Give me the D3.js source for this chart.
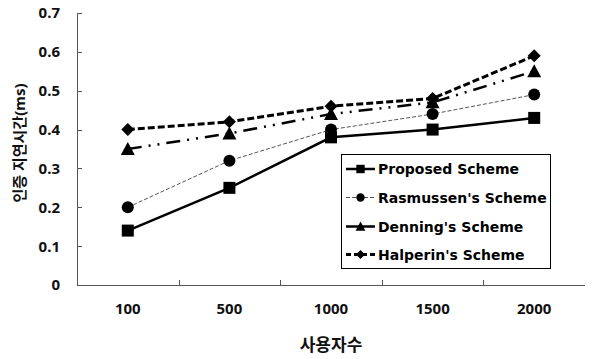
<!DOCTYPE html>
<html><head><meta charset="utf-8">
<script src="https://cdn.jsdelivr.net/npm/d3@7"></script>
<style>body{margin:0;background:#fff}svg{display:block}</style>
</head><body>
<script>
const categories = ["100","500","1000","1500","2000"];
const proposed   = [0.14, 0.25, 0.38, 0.40, 0.43];
const rasmussen  = [0.20, 0.32, 0.40, 0.44, 0.49];
const denning    = [0.35, 0.39, 0.44, 0.47, 0.55];
const halperin   = [0.40, 0.42, 0.46, 0.48, 0.59];
const yTicks = [0,0.1,0.2,0.3,0.4,0.5,0.6,0.7];
const seriesNames = ["Proposed Scheme","Rasmussen's Scheme","Denning's Scheme","Halperin's Scheme"];
const xTitle = "사용자수";
const yTitle = "인증 지연시간(ms)";

(function(){
const W=596,H=359;
const svg=d3.select("body").append("svg").attr("width",W).attr("height",H);
const mL=77,mR=585,mT=13,mB=285;
const x=d3.scaleBand().domain(categories).range([mL,mR]);
const y=d3.scaleLinear().domain([0,0.7]).range([mB,mT]);
const font="'Noto Sans','Noto Sans CJK KR',sans-serif";
const lfont="'DejaVu Sans',sans-serif";

svg.append("line").attr("x1",mL+0.5).attr("x2",mL+0.5).attr("y1",y(0.7)).attr("y2",mB).attr("stroke","#555").attr("stroke-width",1);
svg.append("line").attr("x1",mL).attr("x2",mR).attr("y1",mB+0.5).attr("y2",mB+0.5).attr("stroke","#555").attr("stroke-width",1);
yTicks.forEach(t=>{
  svg.append("line").attr("x1",mL).attr("x2",mL+5).attr("y1",Math.round(y(t))+0.5).attr("y2",Math.round(y(t))+0.5).attr("stroke","#555");
  svg.append("text").attr("x",mL-17).attr("y",y(t)).attr("dy","0.36em").attr("text-anchor","end")
    .attr("font-family",font).attr("font-weight","bold").attr("font-size",15).attr("fill","#111").text(t===0?"0":d3.format(".1f")(t));
});
categories.forEach((c,i)=>{
  const bx=x(c)+x.bandwidth();
  if(i<categories.length-1) svg.append("line").attr("x1",Math.round(bx)+0.5).attr("x2",Math.round(bx)+0.5).attr("y1",mB).attr("y2",mB-5).attr("stroke","#555");
  svg.append("text").attr("x",x(c)+x.bandwidth()/2).attr("y",309).attr("dy","0.36em").attr("text-anchor","middle")
    .attr("font-family",font).attr("font-weight","bold").attr("font-size",15).attr("fill","#111").text(c);
});
svg.append("text").attr("x",331).attr("y",345).attr("dy","0.36em").attr("text-anchor","middle")
  .attr("font-family",font).attr("font-weight","bold").attr("font-size",17).attr("fill","#111").text(xTitle);
svg.append("text").attr("transform","translate(20,143) rotate(-90)").attr("dy","0.36em").attr("text-anchor","middle")
  .attr("font-family",font).attr("font-weight","bold").attr("font-size",15).attr("fill","#111").text(yTitle);

const styles=[
  {data:proposed,w:2.5,dash:null,color:"#000",marker:"square"},
  {data:rasmussen,w:1,dash:"4,2",color:"#555",marker:"circle"},
  {data:denning,w:2.5,dash:"14,7,2,7,2,7",color:"#000",marker:"triangle"},
  {data:halperin,w:3,dash:"7,3",color:"#000",marker:"diamond"}
];
const cx=c=>x(c)+x.bandwidth()/2;
function drawMarker(g,type,px,py,scale){
  scale=scale||1;
  if(type==="square") g.append("rect").attr("x",px-6*scale).attr("y",py-6*scale).attr("width",12*scale).attr("height",12*scale).attr("fill","#000");
  if(type==="circle") g.append("circle").attr("cx",px).attr("cy",py).attr("r",6*scale).attr("fill","#000");
  if(type==="triangle") g.append("path").attr("d",`M${px},${py-7*scale}L${px+7*scale},${py+6*scale}L${px-7*scale},${py+6*scale}Z`).attr("fill","#000");
  if(type==="diamond") g.append("path").attr("d",`M${px},${py-6.5*scale}L${px+6.5*scale},${py}L${px},${py+6.5*scale}L${px-6.5*scale},${py}Z`).attr("fill","#000");
}
const line=d3.line().x((d,i)=>cx(categories[i])).y(d=>y(d));
styles.slice().reverse().forEach(s=>{
  svg.append("path").attr("d",line(s.data)).attr("fill","none").attr("stroke",s.color).attr("stroke-width",s.w)
    .attr("stroke-dasharray",s.dash);
  const g=svg.append("g");
  s.data.forEach((v,i)=>drawMarker(g,s.marker,cx(categories[i]),y(v)));
});

const lg=svg.append("g");
lg.append("rect").attr("x",341.5).attr("y",154.5).attr("width",209).attr("height",114).attr("fill","#fff").attr("stroke","#000").attr("stroke-width",1);
const ly=[169,197.5,226.5,254.5];
styles.forEach((s,i)=>{
  lg.append("line").attr("x1",346).attr("x2",375).attr("y1",ly[i]).attr("y2",ly[i]).attr("stroke",s.color).attr("stroke-width",s.w)
    .attr("stroke-dasharray",s.dash?(i===1?"4,2":i===2?"30":"5,3"):null);
  drawMarker(lg,s.marker,360.5,ly[i],0.7);
  lg.append("text").attr("x",378).attr("y",ly[i]).attr("dy","0.36em").attr("font-family",lfont).attr("font-weight","bold")
    .attr("font-size",14).attr("fill","#000").text(seriesNames[i]);
});
})();
</script>
</body></html>
